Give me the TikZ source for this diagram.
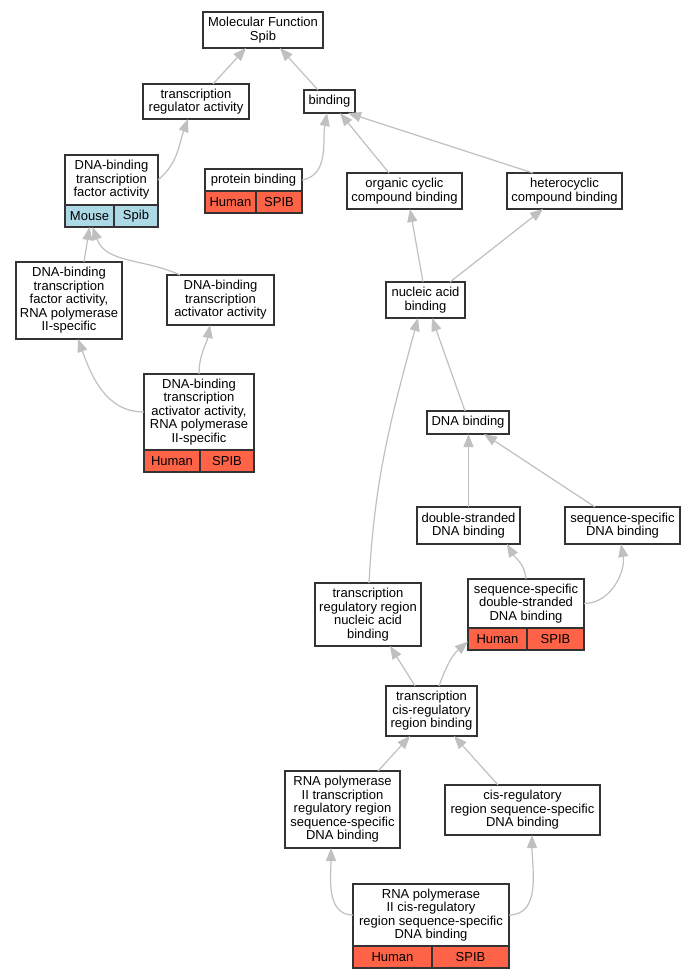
\documentclass[tikz,border=0pt]{standalone}
\usepackage{fontspec}
\setmainfont{Liberation Sans}
\usetikzlibrary{arrows.meta,positioning}
\definecolor{tomato}{HTML}{FF6347}
\definecolor{lightblue}{HTML}{ADD8E6}
\definecolor{silver}{HTML}{C0C0C0}

\begin{document}
\begin{tikzpicture}[x=1pt,y=1pt,>={Triangle[length=13pt,width=10pt]},
    term node/.style={draw=black!80,fill=white,line width=1.1pt,align=center,inner sep=1pt,outer sep=0pt,font=\fontsize{13}{13.5}\selectfont},
    cell node/.style={term node,minimum height=22pt,anchor=north west},
    human cell/.style={cell node,fill=tomato},
    mouse cell/.style={cell node,fill=lightblue},
    edge line/.style={->,draw=silver,line width=1.2pt}]
    \fill[white] (0,0) rectangle (696,-979);
    \useasboundingbox (0,0) rectangle (696,-979);

    % terms
    \node[term node,minimum width=120pt,minimum height=36pt] (mf) at (263,-30) {Molecular Function\\Spib};
    \node[term node,minimum width=106pt,minimum height=35pt] (tra) at (196,-101.5) {transcription\\regulator activity};
    \node[term node,minimum width=51pt,minimum height=23pt] (bind) at (329.5,-101.5) {binding};
    \node[term node,minimum width=93pt,minimum height=50pt] (dbtfa) at (111.5,-180) {DNA-binding\\transcription\\factor activity};
    \node[mouse cell,minimum width=49pt] (dbtfa m) at (dbtfa.south west) {Mouse};
    \node[mouse cell,minimum width=44pt] (dbtfa s) at (dbtfa m.north east) {Spib};
    \node[term node,minimum width=97pt,minimum height=22pt] (pb) at (253.5,-180) {protein binding};
    \node[human cell,minimum width=51pt] (pb h) at (pb.south west) {Human};
    \node[human cell,minimum width=46pt] (pb s) at (pb h.north east) {SPIB};
    \node[term node,minimum width=115pt,minimum height=36pt] (occb) at (404.5,-191) {organic cyclic\\compound binding};
    \node[term node,minimum width=115pt,minimum height=36pt] (hccb) at (564.5,-191) {heterocyclic\\compound binding};
    \node[term node,minimum width=106pt,minimum height=77pt] (dbtfa2) at (69,-300.5) {DNA-binding\\transcription\\factor activity,\\RNA polymerase\\II-specific};
    \node[term node,minimum width=107pt,minimum height=50pt] (dbtaa) at (220.5,-300) {DNA-binding\\transcription\\activator activity};
    \node[term node,minimum width=79pt,minimum height=36pt] (nab) at (425.5,-300) {nucleic acid\\binding};
    \node[term node,minimum width=110pt,minimum height=76pt] (dbtaa2) at (199,-412) {DNA-binding\\transcription\\activator activity,\\RNA polymerase\\II-specific};
    \node[human cell,minimum width=56pt] (dbtaa2 h) at (dbtaa2.south west) {Human};
    \node[human cell,minimum width=54pt] (dbtaa2 s) at (dbtaa2 h.north east) {SPIB};
    \node[term node,minimum width=82pt,minimum height=23pt] (dnab) at (468,-422.5) {DNA binding};
    \node[term node,minimum width=103pt,minimum height=37pt] (dsdna) at (468.5,-525.5) {double-stranded\\DNA binding};
    \node[term node,minimum width=115pt,minimum height=37pt] (ssdna) at (622.5,-525.5) {sequence-specific\\DNA binding};
    \node[term node,minimum width=116pt,minimum height=49pt] (ssds) at (526,-603.5) {sequence-specific\\double-stranded\\DNA binding};
    \node[human cell,minimum width=59pt] (ssds h) at (ssds.south west) {Human};
    \node[human cell,minimum width=57pt] (ssds s) at (ssds h.north east) {SPIB};
    \node[term node,minimum width=106pt,minimum height=63pt] (trnab) at (368,-614.5) {transcription\\regulatory region\\nucleic acid\\binding};
    \node[term node,minimum width=91pt,minimum height=50pt] (tcis) at (431.5,-711) {transcription\\cis-regulatory\\region binding};
    \node[term node,minimum width=115pt,minimum height=77pt] (rtrr) at (342.5,-809.5) {RNA polymerase\\II transcription\\regulatory region\\sequence-specific\\DNA binding};
    \node[term node,minimum width=155pt,minimum height=50pt] (crss) at (522.5,-810) {cis-regulatory\\region sequence-specific\\DNA binding};
    \node[term node,minimum width=156pt,minimum height=62pt] (rcis) at (431,-915) {RNA polymerase\\II cis-regulatory\\region sequence-specific\\DNA binding};
    \node[human cell,minimum width=79pt] (rcis h) at (rcis.south west) {Human};
    \node[human cell,minimum width=77pt] (rcis s) at (rcis h.north east) {SPIB};

    % is-a links
    \draw[edge line] ([xshift=17pt]tra.north) -- ([xshift=-17pt]mf.south);
    \draw[edge line] ([xshift=-11.5pt]bind.north) -- ([xshift=17pt]mf.south);
    \draw[edge line] (dbtfa.east) to[out=40,in=-110] ([xshift=-8pt]tra.south);
    \draw[edge line] (pb.east) to[out=10,in=-100] ([xshift=-2.5pt]bind.south);
    \draw[edge line] ([xshift=-15.5pt]occb.north) -- ([xshift=10.5pt]bind.south);
    \draw[edge line] ([xshift=-31.5pt]hccb.north) -- ([xshift=18.5pt]bind.south);
    \draw[edge line] ([xshift=15pt]dbtfa2.north) -- (dbtfa m.south);
    \draw[edge line] ([xshift=-40.5pt]dbtaa.north) to[out=155,in=-70] ([xshift=3pt]dbtfa m.south);
    \draw[edge line] (dbtaa2.west) to[out=180,in=-70] ([xshift=9pt]dbtfa2.south);
    \draw[edge line] (dbtaa2.north) to[out=90,in=-100] ([xshift=-10.5pt]dbtaa.south);
    \draw[edge line] ([xshift=-2.5pt]nab.north) -- ([xshift=5.5pt]occb.south);
    \draw[edge line] ([xshift=24.5pt]nab.north) -- ([xshift=-21.5pt]hccb.south);
    \draw[edge line] ([xshift=-3pt]dnab.north) -- ([xshift=6.5pt]nab.south);
    \draw[edge line] ([xshift=1pt]trnab.north) to[out=87,in=-105] ([xshift=-7.5pt]nab.south);
    \draw[edge line] (dsdna.north) -- (dsdna.north |- dnab.south);
    \draw[edge line] ([xshift=-27.5pt]ssdna.north) -- ([xshift=16pt]dnab.south);
    \draw[edge line] (ssds.north) to[out=95,in=-60] ([xshift=38.5pt]dsdna.south);
    \draw[edge line] (ssds.east) to[out=0,in=-80] ([xshift=-1.5pt]ssdna.south);
    \draw[edge line] ([xshift=-16.5pt]tcis.north) -- ([xshift=22pt]trnab.south);
    \draw[edge line] ([xshift=7.5pt]tcis.north) to[out=70,in=-140] ([yshift=-2.7pt]ssds h.west);
    \draw[edge line] ([xshift=35.5pt]rtrr.north) -- ([xshift=-21.5pt]tcis.south);
    \draw[edge line] ([xshift=-24.5pt]crss.north) -- ([xshift=22.5pt]tcis.south);
    \draw[edge line] (rcis.west) to[out=180,in=-90] ([xshift=-11.5pt]rtrr.south);
    \draw[edge line] (rcis.east) to[out=0,in=-90] ([xshift=9.5pt]crss.south);
\end{tikzpicture}
\end{document}
